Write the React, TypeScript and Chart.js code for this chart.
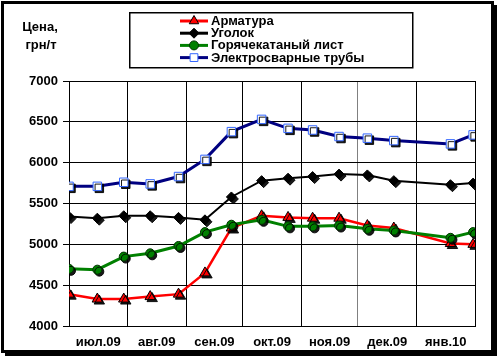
import React, { useEffect, useRef } from 'react';
import { Chart, registerables } from 'chart.js';
Chart.register(...registerables);

const dates = ['2009-07-01', '2009-07-16', '2009-07-30', '2009-08-13', '2009-08-28', '2009-09-11', '2009-09-25', '2009-10-11', '2009-10-25', '2009-11-07', '2009-11-21', '2009-12-06', '2009-12-20', '2010-01-19', '2010-01-31'];
const monthStarts = ['2009-07-01', '2009-08-01', '2009-09-01', '2009-10-01', '2009-11-01', '2009-12-01', '2010-01-01', '2010-02-01'];
const monthLabels = ['июл.09', 'авг.09', 'сен.09', 'окт.09', 'ноя.09', 'дек.09', 'янв.10'];

const armatura = [4390, 4330, 4330, 4360, 4390, 4650, 5200, 5350, 5330, 5320, 5320, 5230, 5200, 5010, 5000];
const ugolok = [5340, 5320, 5350, 5350, 5330, 5300, 5580, 5780, 5810, 5830, 5860, 5850, 5780, 5730, 5750];
const goryach = [4700, 4690, 4850, 4890, 4980, 5150, 5240, 5300, 5220, 5220, 5230, 5190, 5170, 5080, 5150];
const truby = [5710, 5710, 5760, 5740, 5830, 6040, 6380, 6530, 6420, 6400, 6320, 6300, 6270, 6230, 6340];

const seriesNames = ['Арматура', 'Уголок', 'Горячекатаный лист', 'Электросварные трубы'];
const yMin = 4000;
const yMax = 7000;
const yStep = 500;
const yTitle = ['Цена,', 'грн/т'];

const FONT = '"Liberation Sans", Arial, sans-serif';

const dayOf = (s: string) => (Date.parse(s) - Date.parse(monthStarts[0])) / 86400000;

type Style = {
  line: string; lineWidth: number; point: string; fill: string; border: string; radius: number;
};
const styles: Style[] = [
  { line: '#ff0000', lineWidth: 2.5, point: 'triangle', fill: '#ff0000', border: '#000000', radius: 6 },
  { line: '#000000', lineWidth: 2, point: 'rectRot', fill: '#000000', border: '#000000', radius: 5 },
  { line: '#008000', lineWidth: 3, point: 'circle', fill: '#008000', border: '#003300', radius: 4.5 },
  { line: '#000080', lineWidth: 3, point: 'rect', fill: '#ffffff', border: '#3366ff', radius: 6 },
];

function drawMarker(ctx: CanvasRenderingContext2D, st: Style, x: number, y: number) {
  const r = st.radius;
  ctx.beginPath();
  if (st.point === 'triangle') {
    for (let k = 0; k < 3; k++) {
      const a = (k * 2 * Math.PI) / 3;
      const px = x + Math.sin(a) * r;
      const py = y - Math.cos(a) * r;
      if (k === 0) ctx.moveTo(px, py); else ctx.lineTo(px, py);
    }
    ctx.closePath();
  } else if (st.point === 'rectRot') {
    ctx.moveTo(x, y - r); ctx.lineTo(x + r, y); ctx.lineTo(x, y + r); ctx.lineTo(x - r, y); ctx.closePath();
  } else if (st.point === 'circle') {
    ctx.arc(x, y, r, 0, Math.PI * 2);
  } else {
    const s = r * Math.SQRT1_2;
    ctx.rect(x - s, y - s, 2 * s, 2 * s);
  }
  ctx.fillStyle = st.fill;
  ctx.fill();
  ctx.lineWidth = 1;
  ctx.strokeStyle = st.border;
  ctx.stroke();
}

export default function App() {
  const ref = useRef<HTMLCanvasElement | null>(null);

  useEffect(() => {
    const canvas = ref.current;
    if (!canvas) return;
    const allSeries = [armatura, ugolok, goryach, truby];
    const boundaries = monthStarts.map(dayOf);
    const mids = monthLabels.map((_, i) => (boundaries[i] + boundaries[i + 1]) / 2);
    const labelMap = new Map<number, string>();
    mids.forEach((m, i) => labelMap.set(m, monthLabels[i]));
    const boundarySet = new Set(boundaries);
    const greyBoundary = dayOf('2009-12-01');

    const datasets: any[] = [];
    allSeries.forEach((arr, i) => {
      const st = styles[i];
      const pts = dates.map((d, j) => ({ x: dayOf(d), y: arr[j] }));
      datasets.push({
        label: seriesNames[i],
        data: pts,
        borderColor: st.line,
        borderWidth: st.lineWidth,
        pointRadius: 0,
        tension: 0,
        order: 20 - i * 2,
      });
      datasets.push({
        label: seriesNames[i] + ' markers',
        data: pts,
        showLine: false,
        pointStyle: st.point,
        pointRadius: st.radius,
        pointBackgroundColor: st.fill,
        pointBorderColor: st.border,
        pointBorderWidth: 1,
        order: 19 - i * 2,
        shadow: true,
      });
    });

    const deco = {
      id: 'deco',
      beforeDraw(chart: any) {
        const ctx = chart.ctx;
        ctx.save();
        ctx.fillStyle = '#ffffff';
        ctx.fillRect(0, 0, chart.width, chart.height);
        ctx.restore();
      },
      beforeDatasetDraw(chart: any, args: any) {
        const ds = chart.data.datasets[args.index];
        const ctx = chart.ctx;
        ctx.save();
        if (ds.shadow) {
          ctx.shadowColor = 'rgba(0,0,0,0.9)';
          ctx.shadowOffsetX = 2;
          ctx.shadowOffsetY = 2;
          ctx.shadowBlur = 0;
        }
      },
      afterDatasetDraw(chart: any) {
        chart.ctx.restore();
      },
      afterDraw(chart: any) {
        const ctx = chart.ctx as CanvasRenderingContext2D;
        ctx.save();
        // y title
        ctx.fillStyle = '#000';
        ctx.font = 'bold 13px ' + FONT;
        ctx.textAlign = 'center';
        ctx.textBaseline = 'middle';
        ctx.fillText(yTitle[0], 40, 27);
        ctx.fillText(yTitle[1], 41, 45);
        // legend box
        ctx.fillStyle = '#fff';
        ctx.fillRect(129, 12, 284, 56);
        ctx.strokeStyle = '#000';
        ctx.lineWidth = 1.5;
        ctx.strokeRect(129.75, 12.75, 283, 55);
        ctx.textAlign = 'left';
        styles.forEach((st, i) => {
          const y = 21 + i * 12.2;
          ctx.save();
          ctx.beginPath();
          ctx.moveTo(180, y);
          ctx.lineTo(208, y);
          ctx.strokeStyle = st.line;
          ctx.lineWidth = 3;
          ctx.stroke();
          ctx.restore();
          drawMarker(ctx, { ...st, radius: Math.min(st.radius, 5.5) }, 194, y);
          ctx.fillStyle = '#000';
          ctx.font = 'bold 13px ' + FONT;
          ctx.textBaseline = 'middle';
          ctx.fillText(seriesNames[i], 211, y + 0.5);
        });
        // frame with shadow
        ctx.strokeStyle = '#000';
        ctx.lineWidth = 3;
        ctx.strokeRect(2.5, 2.5, 490, 349);
        ctx.fillStyle = '#000';
        ctx.fillRect(494, 5, 3, 351);
        ctx.fillRect(5, 353, 492, 3);
        ctx.restore();
      },
    };

    const chart = new Chart(canvas, {
      type: 'line',
      data: { datasets },
      plugins: [deco],
      options: {
        animation: false,
        responsive: false,
        maintainAspectRatio: false,
        layout: { padding: { top: 81, right: 25, bottom: 0, left: 0 } },
        plugins: { legend: { display: false }, tooltip: { enabled: false }, title: { display: false } },
        scales: {
          x: {
            type: 'linear',
            min: boundaries[0],
            max: boundaries[boundaries.length - 1],
            afterBuildTicks(scale: any) {
              const vals = [...boundaries, ...mids].sort((a, b) => a - b);
              scale.ticks = vals.map((v) => ({ value: v }));
            },
            afterFit(scale: any) { scale.height = 32; },
            ticks: {
              autoSkip: false,
              maxRotation: 0,
              minRotation: 0,
              padding: 9,
              color: '#000',
              font: { family: FONT, size: 13, weight: 'bold' },
              callback: (v: any) => labelMap.get(Number(v)) ?? '',
            },
            grid: {
              drawTicks: false,
              lineWidth: 1,
              color: (c: any) => {
                const v = c.tick ? c.tick.value : null;
                if (v === null || !boundarySet.has(v)) return 'rgba(0,0,0,0)';
                return v === greyBoundary ? '#808080' : '#000000';
              },
            },
            border: { display: true, color: '#000', width: 1 },
          },
          y: {
            type: 'linear',
            min: yMin,
            max: yMax,
            afterFit(scale: any) { scale.width = 69; },
            ticks: {
              stepSize: yStep,
              padding: 5,
              color: '#000',
              font: { family: FONT, size: 13, weight: 'bold' },
              callback: (v: any) => String(v),
            },
            grid: { color: '#000', lineWidth: 1, tickLength: 6, drawTicks: true },
            border: { display: true, color: '#000', width: 1 },
          },
        },
      } as any,
    });
    return () => chart.destroy();
  }, []);

  return (
    <div style={{ position: 'absolute', left: 0, top: 0, width: 500, height: 358 }}>
      <canvas ref={ref} width={500} height={358} style={{ width: 500, height: 358, display: 'block' }} />
    </div>
  );
}
